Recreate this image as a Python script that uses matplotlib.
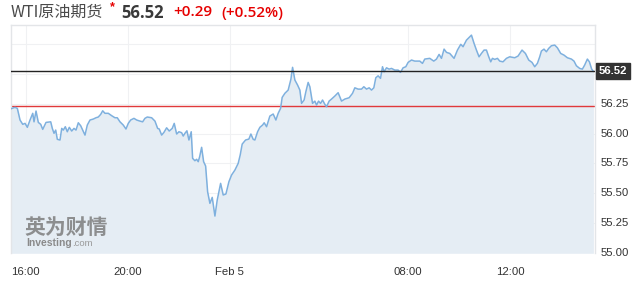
import matplotlib
matplotlib.use("Agg")
import matplotlib.pyplot as plt
import numpy as np

# session hours after 16:00 (the 06:00-07:00 break is not on the axis)
hours = [
    -0.616, -0.420, -0.329, -0.224, -0.118, -0.027, 0.063, 0.169, 0.275, 0.325,
    0.404, 0.494, 0.588, 0.667, 0.796, 0.980, 1.043, 1.110, 1.176, 1.239,
    1.345, 1.412, 1.475, 1.553, 1.631, 1.710, 1.804, 1.894, 1.973, 2.063,
    2.157, 2.235, 2.325, 2.416, 2.522, 2.651, 2.757, 2.847, 2.941, 3.020,
    3.110, 3.239, 3.373, 3.502, 3.592, 3.698, 3.827, 3.933, 4.024, 4.118,
    4.247, 4.353, 4.482, 4.588, 4.678, 4.769, 4.941, 5.071, 5.176, 5.239,
    5.333, 5.424, 5.529, 5.631, 5.749, 5.827, 5.922, 6.012, 6.118, 6.180,
    6.247, 6.325, 6.404, 6.494, 6.549, 6.639, 6.706, 6.769, 6.824, 6.902,
    6.980, 7.059, 7.137, 7.227, 7.318, 7.424, 7.514, 7.647, 7.749, 7.855,
    7.973, 8.078, 8.208, 8.337, 8.416, 8.494, 8.627, 8.757, 8.835, 8.925,
    8.992, 9.098, 9.188, 9.294, 9.357, 9.451, 9.580, 9.710, 9.816, 9.906,
    10.000, 10.063, 10.169, 10.298, 10.404, 10.471, 10.561, 10.667, 10.757, 10.824,
    10.925, 10.992, 11.082, 11.149, 11.255, 11.345, 11.412, 11.490, 11.569, 11.647,
    11.737, 11.804, 11.906, 12.000, 12.129, 12.259, 12.392, 12.522, 12.690, 12.824,
    12.914, 13.043, 13.176, 13.267, 13.373, 13.475, 13.569, 13.659, 13.737, 13.827,
    13.922, 14.000, 14.063, 14.157, 14.259, 14.353, 14.482, 14.612, 14.706, 14.808,
    14.914, 15.004, 15.137, 15.267, 15.463, 15.569, 15.659, 15.855, 16.012, 16.118,
    16.220, 16.314, 16.416, 16.510, 16.639, 16.808, 16.941, 17.071, 17.161, 17.294,
    17.490, 17.592, 17.686, 17.788, 17.882, 17.984, 18.078, 18.169, 18.247, 18.314,
    18.404, 18.510, 18.600, 18.729, 18.863, 18.992, 19.188, 19.318, 19.475, 19.608,
    19.737, 19.867, 19.973, 20.078, 20.169, 20.235, 20.337, 20.431, 20.522, 20.627,
    20.757, 20.863, 20.992, 21.122, 21.255, 21.412, 21.514, 21.608, 21.737, 21.843,
    21.933, 22.039, 22.118, 22.208, 22.275,
]
price = [
    56.204, 56.219, 56.210, 56.113, 56.077, 56.085, 56.052, 56.113, 56.169, 56.098,
    56.188, 56.093, 56.077, 56.035, 56.093, 56.098, 56.043, 56.002, 56.029, 55.952,
    55.946, 56.043, 56.029, 56.057, 56.015, 56.052, 56.021, 56.043, 56.029, 56.090,
    56.065, 56.029, 55.987, 56.071, 56.113, 56.121, 56.132, 56.138, 56.160, 56.190,
    56.169, 56.169, 56.149, 56.132, 56.132, 56.098, 56.071, 56.038, 56.085, 56.113,
    56.127, 56.113, 56.104, 56.098, 56.127, 56.138, 56.132, 56.104, 56.043, 56.038,
    55.987, 56.010, 56.048, 56.021, 56.043, 56.085, 55.996, 56.015, 56.007, 55.979,
    56.002, 56.023, 55.946, 56.015, 55.793, 55.773, 55.785, 55.765, 55.806, 55.885,
    55.765, 55.729, 55.514, 55.417, 55.467, 55.311, 55.445, 55.584, 55.487, 55.495,
    55.598, 55.654, 55.695, 55.751, 55.821, 55.912, 55.946, 55.954, 55.996, 55.952,
    55.946, 56.015, 56.052, 56.071, 56.090, 56.057, 56.146, 56.163, 56.113, 56.169,
    56.210, 56.302, 56.336, 56.363, 56.452, 56.553, 56.447, 56.405, 56.363, 56.252,
    56.281, 56.349, 56.427, 56.391, 56.252, 56.271, 56.238, 56.271, 56.252, 56.280,
    56.244, 56.224, 56.271, 56.288, 56.313, 56.341, 56.271, 56.288, 56.299, 56.336,
    56.382, 56.371, 56.371, 56.391, 56.371, 56.382, 56.363, 56.382, 56.466, 56.482,
    56.461, 56.558, 56.516, 56.549, 56.538, 56.544, 56.530, 56.530, 56.511, 56.549,
    56.558, 56.594, 56.614, 56.605, 56.605, 56.586, 56.622, 56.628, 56.605, 56.622,
    56.661, 56.628, 56.705, 56.678, 56.669, 56.628, 56.697, 56.745, 56.725, 56.780,
    56.822, 56.753, 56.697, 56.641, 56.669, 56.697, 56.697, 56.641, 56.599, 56.628,
    56.619, 56.628, 56.605, 56.599, 56.628, 56.641, 56.633, 56.647, 56.697, 56.669,
    56.614, 56.594, 56.558, 56.586, 56.641, 56.689, 56.705, 56.683, 56.711, 56.733,
    56.739, 56.716, 56.669, 56.655, 56.633, 56.622, 56.605, 56.566, 56.544, 56.538,
    56.572, 56.622, 56.599, 56.538, 56.520,
]

last_price = 56.52
prev_close = 56.23
change = "+0.29"
change_pct = "(+0.52%)"

xtick_pos = [0, 4, 8, 15, 19]
xtick_labels = ["16:00", "20:00", "Feb 5", "08:00", "12:00"]
ytick_labels = [55.00, 55.25, 55.50, 55.75, 56.00, 56.25]
grid_y = [55.25, 55.50, 55.75, 56.00, 56.25, 56.50, 56.75]

W, H = 636, 284
fig = plt.figure(figsize=(W / 100, H / 100), dpi=100)
fig.patch.set_facecolor("white")
ax = fig.add_axes([10.7 / W, 1 - 253.3 / H, (595.3 - 10.7) / W, (253.3 - 24.7) / H])

ax.set_xlim(-0.59, 22.35)
ax.set_ylim(55.0, 56.909)

for x in xtick_pos:
    ax.axvline(x, color="#f0f1f3", lw=0.8, zorder=0)
for y in grid_y:
    ax.axhline(y, color="#f0f1f3", lw=0.8, zorder=0)

ax.fill_between(hours, 55.0, price, color="#e5edf4", lw=0, zorder=1)
ax.plot(hours, price, color="#7eb0de", lw=1.1, zorder=3)

ax.axhline(prev_close, color="#e0393b", lw=1.0, zorder=2)
ax.axhline(last_price, color="#222222", lw=1.0, zorder=4)

for s in ["top", "left", "right"]:
    ax.spines[s].set_color("#e3e5e8")
    ax.spines[s].set_linewidth(1.0)
ax.spines["bottom"].set_visible(False)

ax.set_xticks(xtick_pos)
ax.set_xticklabels(xtick_labels)
ax.set_yticks(ytick_labels)
ax.set_yticklabels(["%.2f" % v for v in ytick_labels])
ax.yaxis.tick_right()
ax.tick_params(axis="both", length=0, labelsize=8.2, labelcolor="#333333",
               labelfontfamily="Liberation Sans")
ax.tick_params(axis="x", pad=10)
ax.tick_params(axis="y", pad=4)
for lbl in ax.get_yticklabels():
    lbl.set_verticalalignment("center")

# last price tag on the right axis
ax.annotate("%.2f" % last_price, xy=(1.0, last_price), xycoords=("axes fraction", "data"),
            xytext=(2.5, 0), textcoords="offset points", ha="left", va="center",
            fontsize=8.2, color="white", family="Liberation Sans", fontweight="bold",
            bbox=dict(boxstyle="square,pad=0.28", fc="#333333", ec="#333333"),
            annotation_clip=False, zorder=6)

# watermark
ax.text(0.024, 0.067, "英为财情", transform=ax.transAxes, fontsize=15,
        family=["Noto Sans CJK SC", "DejaVu Sans"], fontweight="heavy",
        color="#7d7d7d", alpha=0.85, va="bottom", zorder=2)
inv = ax.text(0.026, 0.025, "Investing", transform=ax.transAxes, fontsize=7.5,
              family="Liberation Sans", fontweight="bold", color="#8a8a8a",
              va="bottom", zorder=2)
ax.annotate(".com", xy=(1, 0), xycoords=inv, xytext=(0.3, 0), textcoords="offset points",
            ha="left", va="bottom", fontsize=6.8, family="Liberation Sans",
            color="#9a9a9a", zorder=2)

# header
fig.text(11 / W, 1 - 12.5 / H, "WTI原油期货", fontsize=11.5, color="#4a4a4a",
         family=["Noto Sans CJK SC", "DejaVu Sans"], va="center", ha="left")
fig.text(109.5 / W, 1 - 7 / H, "*", fontsize=9, color="#e60000",
         family="Liberation Sans", fontweight="bold", va="center", ha="left")
fig.text(121 / W, 1 - 12.5 / H, "%.2f" % last_price, fontsize=12, color="#3a3a3a",
         family="Open Sans", fontweight="bold", va="center", ha="left")
fig.text(173 / W, 1 - 12.5 / H, change, fontsize=11, color="#e60000",
         family="Open Sans", fontweight="semibold", va="center", ha="left")
fig.text(221 / W, 1 - 12.5 / H, change_pct, fontsize=11, color="#e60000",
         family="Open Sans", fontweight="semibold", va="center", ha="left")

fig.savefig("out.png", dpi=100, facecolor="white")
